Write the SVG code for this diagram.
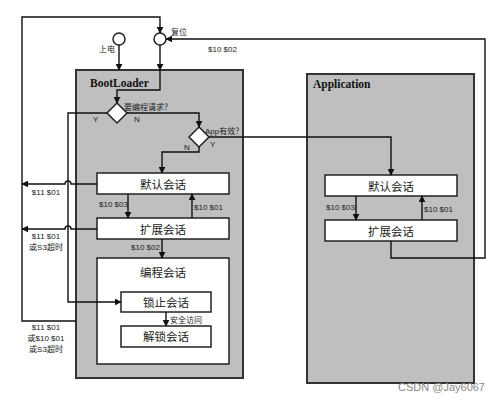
<svg xmlns="http://www.w3.org/2000/svg" width="496" height="400" viewBox="0 0 496 400">
<defs>
<marker id="ah" viewBox="0 0 10 10" refX="9" refY="5" markerWidth="7" markerHeight="7" markerUnits="userSpaceOnUse" orient="auto">
<path d="M0,0 L10,5 L0,10 z" fill="#111"/>
</marker>
<style>
.cont{fill:#bfbfbf;stroke:#333;stroke-width:2}
.box{fill:#fff;stroke:#222;stroke-width:1.5}
.dia{fill:#fff;stroke:#222;stroke-width:1.5}
.circ{fill:#fff;stroke:#222;stroke-width:1.5}
.ln{fill:none;stroke:#111;stroke-width:1.4}
.arr{fill:none;stroke:#111;stroke-width:1.4;marker-end:url(#ah)}
.title{font-family:"Liberation Serif",serif;font-weight:bold;font-size:11.5px;fill:#111}
.node{font-family:"Noto Sans CJK SC",sans-serif;font-size:11.5px;fill:#222;text-anchor:middle;dominant-baseline:central}
.lbl{font-family:"Liberation Sans","Noto Sans CJK SC",sans-serif;font-size:8px;fill:#222}
.lblc{font-family:"Liberation Sans","Noto Sans CJK SC",sans-serif;font-size:8px;fill:#222;text-anchor:middle}
.wm{font-family:"Liberation Sans",sans-serif;font-size:11px;fill:#888}
</style>
</defs>
<rect width="496" height="400" fill="#fff"/>

<g id="bootloader">
<rect class="cont" x="76" y="70" width="167" height="308"/>
<text class="title" x="90" y="87">BootLoader</text>
</g>
<g id="application">
<rect class="cont" x="307" y="74" width="167" height="309"/>
<text class="title" x="313" y="88">Application</text>
</g>

<g id="power-on">
<circle class="circ" cx="119" cy="39" r="6"/>
<text class="lbl" x="99" y="52" font-size="8.5">上电</text>
</g>
<g id="reset">
<circle class="circ" cx="160" cy="39" r="6"/>
<text class="lbl" x="171" y="35" font-size="8.5">复位</text>
</g>

<g id="decision-program">
<polygon class="dia" points="117,103 127,113 117,123 107,113"/>
<text class="lbl" x="124" y="110">要编程请求？</text>
<text class="lbl" x="93" y="122">Y</text>
<text class="lbl" x="134" y="122">N</text>
</g>
<g id="decision-app">
<polygon class="dia" points="199,127 209,137 199,147 189,137"/>
<text class="lbl" x="205" y="134">App有效？</text>
<text class="lbl" x="184" y="150">N</text>
<text class="lbl" x="210" y="147">Y</text>
</g>

<g id="bl-default">
<rect class="box" x="97" y="173" width="132" height="21"/>
<text class="node" x="163" y="184">默认会话</text>
</g>
<g id="bl-extended">
<rect class="box" x="97" y="218" width="132" height="21"/>
<text class="node" x="163" y="229">扩展会话</text>
</g>
<g id="bl-programming">
<rect class="box" x="97" y="258" width="132" height="106"/>
<text class="node" x="163" y="272">编程会话</text>
</g>
<g id="bl-locked">
<rect class="box" x="121" y="292" width="90" height="20"/>
<text class="node" x="166" y="302">锁止会话</text>
</g>
<g id="bl-unlocked">
<rect class="box" x="121" y="326" width="90" height="21"/>
<text class="node" x="166" y="336">解锁会话</text>
</g>

<g id="app-default">
<rect class="box" x="325" y="175" width="132" height="21"/>
<text class="node" x="391" y="186">默认会话</text>
</g>
<g id="app-extended">
<rect class="box" x="325" y="220" width="132" height="21"/>
<text class="node" x="391" y="231">扩展会话</text>
</g>

<g id="connectors">
<!-- power on into bootloader -->
<path class="arr" d="M119,45 V70"/>
<!-- reset into bootloader and to decision -->
<path class="arr" d="M160,45 V70"/>
<path class="arr" d="M160,70 V90 H117 V103"/>
<!-- decision Y to locked session -->
<path class="arr" d="M107,113 H68 V302 H121"/>
<!-- decision N to app decision -->
<path class="arr" d="M127,113 H199 V127"/>
<!-- app decision N to default -->
<path class="arr" d="M199,147 V152 H162 V173"/>
<!-- app decision Y to app default -->
<path class="arr" d="M209,137 H391 V175"/>
<!-- BL transitions -->
<path class="arr" d="M128,194 V218"/>
<path class="arr" d="M192,218 V194"/>
<path class="arr" d="M162,239 V258"/>
<path class="arr" d="M166,312 V326"/>
<!-- App transitions -->
<path class="arr" d="M356,196 V220"/>
<path class="arr" d="M422,220 V196"/>
<!-- exits to left with hop -->
<path class="arr" d="M97,184 H71 A3,3 0 0 0 65,184 H22"/>
<path class="arr" d="M97,229 H71 A3,3 0 0 0 65,229 H22"/>
<!-- outer loop left back to reset -->
<path class="arr" d="M76,321 H22 V17 H160 V33"/>
<!-- app extended back to reset -->
<path class="arr" d="M391,241 V258 H485 V39 H166"/>

<text class="lbl" x="208" y="52">$10 $02</text>
<text class="lbl" x="99" y="207">$10 $03</text>
<text class="lbl" x="194" y="210">$10 $01</text>
<text class="lbl" x="131" y="250">$10 $02</text>
<text class="lbl" x="170" y="323">安全访问</text>
<text class="lbl" x="326" y="210">$10 $03</text>
<text class="lbl" x="424" y="212">$10 $01</text>
<text class="lblc" x="46" y="195">$11 $01</text>
<text class="lblc" x="46" y="239">$11 $01</text>
<text class="lblc" x="46" y="250">或S3超时</text>
<text class="lblc" x="46" y="330">$11 $01</text>
<text class="lblc" x="46" y="341">或$10 $01</text>
<text class="lblc" x="46" y="352">或S3超时</text>
</g>
<text class="wm" x="398" y="391">CSDN @Jay6067</text>
</svg>
